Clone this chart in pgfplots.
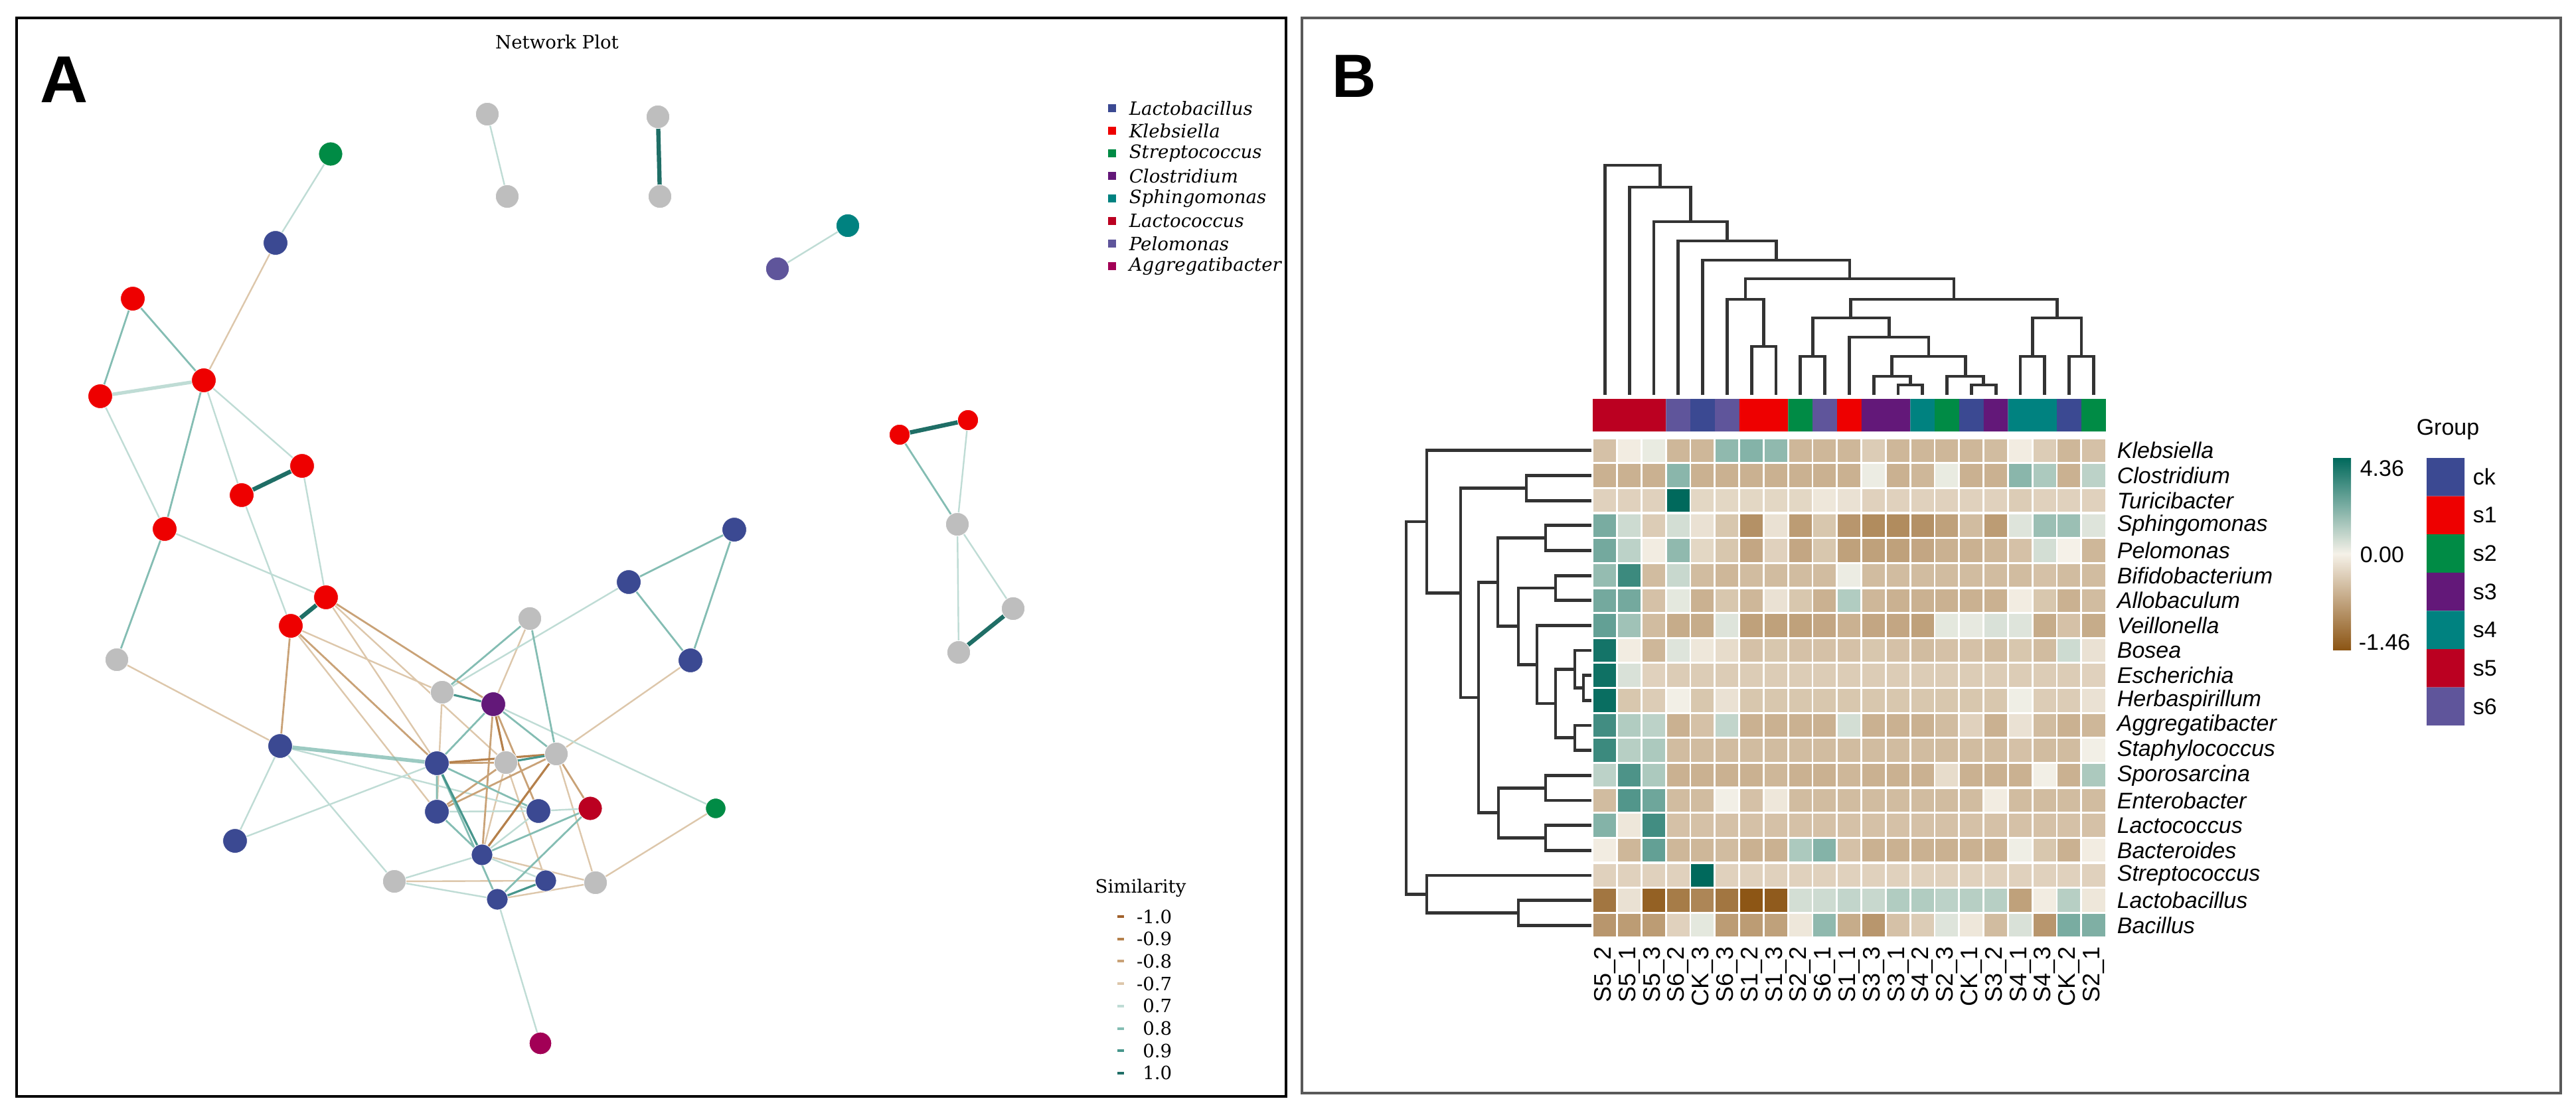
\documentclass[border=0pt]{standalone}
\usepackage{fontspec}
\setmainfont{Liberation Sans}
\newfontfamily\seriffam{DejaVu Serif}
\usepackage{pgfplots}
\pgfplotsset{compat=1.18}
\definecolor{cblue}{HTML}{3B4992}
\definecolor{cred}{HTML}{EE0000}
\definecolor{cgreen}{HTML}{008B45}
\definecolor{cpurple}{HTML}{631879}
\definecolor{cteal}{HTML}{008280}
\definecolor{ccrimson}{HTML}{BB0021}
\definecolor{cviolet}{HTML}{5F559B}
\definecolor{cmagenta}{HTML}{A20056}
\definecolor{cgray}{HTML}{BEBEBE}
\definecolor{hbrown}{RGB}{140,85,20}
\definecolor{hcream}{RGB}{245,241,232}
\definecolor{hteal}{RGB}{0,105,92}
\definecolor{sn10}{HTML}{A0602A}
\definecolor{sn09}{HTML}{B5804B}
\definecolor{sn08}{HTML}{C9A277}
\definecolor{sn07}{HTML}{DDC7AB}
\definecolor{sp07}{HTML}{BFDCD5}
\definecolor{sp08}{HTML}{84BDB3}
\definecolor{sp09}{HTML}{47968C}
\definecolor{sp10}{HTML}{1F6E66}
\definecolor{dendro}{HTML}{333333}
\newcommand\fb{\fontsize{8.5bp}{10bp}\selectfont}
\newcommand\fc{\fontsize{9bp}{10bp}\selectfont}
\newcommand\fs{\seriffam\fontsize{6.9bp}{8bp}\selectfont}
\begin{document}
\begin{tikzpicture}
\begin{axis}[
  scale only axis, width=970bp, height=419.25bp,
  xmin=0, xmax=3880, ymin=0, ymax=1677, y dir=reverse,
  hide axis, clip=false, unbounded coords=jump,
  colormap={hm}{rgb255=(140,85,20) rgb255=(245,241,232) rgb255=(163,196,185) rgb255=(82,150,139) rgb255=(0,105,92)},
  point meta min=-1.46, point meta max=4.36,
]
% background
\addplot[draw=none, fill=white] coordinates {(0,0) (3880,0) (3880,1677) (0,1677) (0,0)};
% ================= PANEL A =================
\draw[line width=1.2bp, black] (25,27) rectangle (1937,1652);
\node[font=\bfseries\fontsize{25bp}{30bp}\selectfont, inner sep=0pt] at (97,120) {A};
\node[font=\fs, inner sep=0pt] at (839,63) {Network Plot};
% edges -0.7
\addplot[sn07, line width=0.6bp] coordinates {
(415,366) (307,573) (nan,nan) (176,994) (422,1124) (nan,nan) (438,943) (666,1043) (nan,nan)
(1078,1218) (897,1330) (nan,nan) (838,1136) (897,1330) (nan,nan) (1040,995) (838,1136) (nan,nan)
(491,900) (658,1150) (nan,nan) (762,1149) (822,1327) (nan,nan) (594,1328) (822,1327) (nan,nan)
(897,1330) (726,1288) (nan,nan) (897,1330) (749,1355) (nan,nan) (798,932) (743,1061) (nan,nan)
(666,1043) (658,1223) (nan,nan) (762,1149) (726,1288) (nan,nan) (491,900) (762,1149) (nan,nan)
(438,943) (658,1223)};
% edges 0.7
\addplot[sp07, line width=0.6bp] coordinates {
(734,172) (764,296) (nan,nan) (498,232) (415,366) (nan,nan) (1277,340) (1171,405) (nan,nan)
(151,597) (248,797) (nan,nan) (307,573) (455,702) (nan,nan) (307,573) (364,746) (nan,nan)
(455,702) (491,900) (nan,nan) (364,746) (438,943) (nan,nan) (248,797) (491,900) (nan,nan)
(422,1124) (354,1267) (nan,nan) (422,1124) (594,1328) (nan,nan) (354,1267) (658,1150) (nan,nan)
(947,877) (666,1043) (nan,nan) (1078,1218) (743,1061) (nan,nan) (1442,790) (1526,917) (nan,nan)
(1442,790) (1444,983) (nan,nan) (1458,633) (1442,790) (nan,nan) (814,1572) (749,1355) (nan,nan)
(422,1124) (811,1222) (nan,nan) (594,1328) (726,1288) (nan,nan) (594,1328) (749,1355) (nan,nan)
(726,1288) (822,1327) (nan,nan) (811,1222) (889,1218) (nan,nan) (658,1223) (811,1222) (nan,nan)
(811,1222) (726,1288)};
\addplot[sp07, line width=1.3bp] coordinates {(151,597) (307,573)};
% edges -0.8
\addplot[sn08, line width=0.7bp] coordinates {
(438,943) (422,1124) (nan,nan) (491,900) (743,1061) (nan,nan) (743,1061) (811,1222) (nan,nan)
(762,1149) (658,1223) (nan,nan) (658,1150) (762,1149) (nan,nan) (838,1136) (658,1223) (nan,nan)
(838,1136) (889,1218) (nan,nan) (743,1061) (726,1288) (nan,nan) (438,943) (658,1150)};
% edges 0.8
\addplot[sp08, line width=0.7bp] coordinates {
(200,450) (151,597) (nan,nan) (200,450) (307,573) (nan,nan) (307,573) (248,797) (nan,nan)
(248,797) (176,994) (nan,nan) (947,877) (1040,995) (nan,nan) (947,877) (1106,798) (nan,nan)
(1106,798) (1040,995) (nan,nan) (1355,655) (1442,790) (nan,nan) (798,932) (838,1136) (nan,nan)
(743,1061) (838,1136) (nan,nan) (743,1061) (658,1150) (nan,nan) (658,1150) (658,1223) (nan,nan)
(658,1223) (726,1288) (nan,nan) (889,1218) (726,1288) (nan,nan) (889,1218) (749,1355) (nan,nan)
(798,932) (666,1043) (nan,nan) (658,1150) (749,1355) (nan,nan) (658,1150) (811,1222)};
\addplot[sp08, line width=1.4bp, opacity=0.8] coordinates {(422,1124) (658,1150)};
% edges -0.9
\addplot[sn09, line width=0.8bp] coordinates {
(658,1150) (838,1136) (nan,nan) (838,1136) (726,1288) (nan,nan) (743,1061) (762,1149)};
% edges 0.9
\addplot[sp09, line width=0.8bp] coordinates {
(666,1043) (743,1061) (nan,nan) (762,1149) (838,1136) (nan,nan) (822,1327) (749,1355) (nan,nan)
(658,1150) (726,1288)};
% edges 1.0
\addplot[sp10, line width=1.6bp] coordinates {
(991,176) (994,296) (nan,nan) (455,702) (364,746) (nan,nan) (491,900) (438,943) (nan,nan)
(1355,655) (1458,633) (nan,nan) (1526,917) (1444,983)};
% nodes
\addplot[only marks, mark=*, mark size=4.4bp, cgray, mark options={draw=white, line width=0.2bp}] coordinates {
(734,172) (764,296) (991,176) (994,296) (176,994) (666,1043) (594,1328) (838,1136) (798,932)
(897,1330) (762,1149) (1442,790) (1444,983) (1526,917)};
\addplot[only marks, mark=*, mark size=4.6bp, cblue, mark options={draw=white, line width=0.2bp}] coordinates {
(415,366) (422,1124) (658,1150) (658,1223) (811,1222) (354,1267) (947,877) (1040,995) (1106,798)};
\addplot[only marks, mark=*, mark size=4.0bp, cblue, mark options={draw=white, line width=0.2bp}] coordinates {
(726,1288) (822,1327) (749,1355)};
\addplot[only marks, mark=*, mark size=4.6bp, cred, mark options={draw=white, line width=0.2bp}] coordinates {
(200,450) (151,597) (307,573) (455,702) (364,746) (248,797) (491,900) (438,943)};
\addplot[only marks, mark=*, mark size=3.9bp, cred, mark options={draw=white, line width=0.2bp}] coordinates {
(1355,655) (1458,633)};
\addplot[only marks, mark=*, mark size=4.5bp, cgreen, mark options={draw=white, line width=0.2bp}] coordinates {(498,232)};
\addplot[only marks, mark=*, mark size=3.8bp, cgreen, mark options={draw=white, line width=0.2bp}] coordinates {(1078,1218)};
\addplot[only marks, mark=*, mark size=4.6bp, cpurple, mark options={draw=white, line width=0.2bp}] coordinates {(743,1061)};
\addplot[only marks, mark=*, mark size=4.4bp, cteal, mark options={draw=white, line width=0.2bp}] coordinates {(1277,340)};
\addplot[only marks, mark=*, mark size=4.5bp, ccrimson, mark options={draw=white, line width=0.2bp}] coordinates {(889,1218)};
\addplot[only marks, mark=*, mark size=4.4bp, cviolet, mark options={draw=white, line width=0.2bp}] coordinates {(1171,405)};
\addplot[only marks, mark=*, mark size=4.2bp, cmagenta, mark options={draw=white, line width=0.2bp}] coordinates {(814,1572)};
% genus legend
\addplot[only marks, mark=square*, mark size=1.4bp, cblue] coordinates {(1675,163)};
\addplot[only marks, mark=square*, mark size=1.4bp, cred] coordinates {(1675,197)};
\addplot[only marks, mark=square*, mark size=1.4bp, cgreen] coordinates {(1675,231)};
\addplot[only marks, mark=square*, mark size=1.4bp, cpurple] coordinates {(1675,265)};
\addplot[only marks, mark=square*, mark size=1.4bp, cteal] coordinates {(1675,299)};
\addplot[only marks, mark=square*, mark size=1.4bp, ccrimson] coordinates {(1675,333)};
\addplot[only marks, mark=square*, mark size=1.4bp, cviolet] coordinates {(1675,367)};
\addplot[only marks, mark=square*, mark size=1.4bp, cmagenta] coordinates {(1675,401)};
\node[font=\fs\itshape, anchor=west, inner sep=0pt] at (1700,163) {Lactobacillus};
\node[font=\fs\itshape, anchor=west, inner sep=0pt] at (1700,197) {Klebsiella};
\node[font=\fs\itshape, anchor=west, inner sep=0pt] at (1700,231) {Streptococcus};
\node[font=\fs\itshape, anchor=west, inner sep=0pt] at (1700,265) {Clostridium};
\node[font=\fs\itshape, anchor=west, inner sep=0pt] at (1700,299) {Sphingomonas};
\node[font=\fs\itshape, anchor=west, inner sep=0pt] at (1700,333) {Lactococcus};
\node[font=\fs\itshape, anchor=west, inner sep=0pt] at (1700,367) {Pelomonas};
\node[font=\fs\itshape, anchor=west, inner sep=0pt] at (1700,401) {Aggregatibacter};
% similarity legend
\node[font=\fs, inner sep=0pt] at (1718,1338) {Similarity};
\addplot[sn10, line width=1bp] coordinates {(1683,1381) (1693,1381)};
\addplot[sn09, line width=1bp] coordinates {(1683,1414.7) (1693,1414.7)};
\addplot[sn08, line width=1bp] coordinates {(1683,1448.4) (1693,1448.4)};
\addplot[sn07, line width=1bp] coordinates {(1683,1482.1) (1693,1482.1)};
\addplot[sp07, line width=1bp] coordinates {(1683,1515.8) (1693,1515.8)};
\addplot[sp08, line width=1bp] coordinates {(1683,1549.5) (1693,1549.5)};
\addplot[sp09, line width=1bp] coordinates {(1683,1583.2) (1693,1583.2)};
\addplot[sp10, line width=1bp] coordinates {(1683,1616.9) (1693,1616.9)};
\node[font=\fs, anchor=east, inner sep=0pt] at (1766,1381) {-1.0};
\node[font=\fs, anchor=east, inner sep=0pt] at (1766,1414.7) {-0.9};
\node[font=\fs, anchor=east, inner sep=0pt] at (1766,1448.4) {-0.8};
\node[font=\fs, anchor=east, inner sep=0pt] at (1766,1482.1) {-0.7};
\node[font=\fs, anchor=east, inner sep=0pt] at (1766,1515.8) {0.7};
\node[font=\fs, anchor=east, inner sep=0pt] at (1766,1549.5) {0.8};
\node[font=\fs, anchor=east, inner sep=0pt] at (1766,1583.2) {0.9};
\node[font=\fs, anchor=east, inner sep=0pt] at (1766,1616.9) {1.0};
% ================= PANEL B =================
\draw[line width=0.8bp, black!65] (1961,27) rectangle (3857,1647);
\node[font=\bfseries\fontsize{23bp}{28bp}\selectfont, inner sep=0pt] at (2040,115) {B};
% heatmap
\addplot[scatter, only marks, mark=square*, mark size=4.65bp, point meta=explicit,
  scatter/use mapped color={draw=white, fill=mapped color, line width=0.7bp}]
  table[row sep=\\,
    x expr={2417.4+36.8*(\coordindex-21*floor((\coordindex+0.5)/21))},
    y expr={678.8+37.65*floor((\coordindex+0.5)/21)}, meta=v] {
v\\
-0.45\\ -0.05\\ 0.2\\ -0.55\\ -0.55\\ 1.8\\ 2.0\\ 1.8\\ -0.55\\ -0.55\\ -0.55\\ -0.35\\ -0.55\\ -0.55\\ -0.55\\ -0.55\\ -0.5\\ -0.05\\ -0.35\\ -0.55\\ -0.45\\
-0.6\\ -0.6\\ -0.6\\ 1.9\\ -0.6\\ -0.6\\ -0.6\\ -0.6\\ -0.6\\ -0.6\\ -0.6\\ 0.15\\ -0.6\\ -0.55\\ 0.2\\ -0.6\\ -0.6\\ 1.9\\ 1.3\\ -0.6\\ 1.0\\
-0.3\\ -0.3\\ -0.3\\ 4.36\\ -0.25\\ -0.25\\ -0.25\\ -0.25\\ -0.25\\ -0.1\\ -0.15\\ -0.3\\ -0.3\\ -0.3\\ -0.3\\ -0.3\\ -0.3\\ -0.35\\ -0.3\\ -0.3\\ -0.3\\
2.2\\ 0.7\\ -0.35\\ 0.6\\ -0.15\\ -0.4\\ -0.9\\ -0.15\\ -0.8\\ -0.4\\ -0.85\\ -0.95\\ -0.95\\ -0.9\\ -0.75\\ -0.5\\ -0.8\\ 0.4\\ 1.6\\ 1.6\\ 0.4\\
2.3\\ 1.0\\ -0.05\\ 1.8\\ -0.25\\ -0.4\\ -0.7\\ -0.3\\ -0.7\\ -0.4\\ -0.75\\ -0.75\\ -0.75\\ -0.7\\ -0.6\\ -0.6\\ -0.55\\ -0.45\\ 0.6\\ 0.0\\ -0.55\\
1.7\\ 3.3\\ -0.5\\ 0.8\\ -0.5\\ -0.55\\ -0.5\\ -0.5\\ -0.5\\ -0.5\\ 0.15\\ -0.5\\ -0.5\\ -0.5\\ -0.5\\ -0.5\\ -0.5\\ -0.5\\ -0.45\\ -0.5\\ -0.5\\
2.3\\ 2.3\\ -0.45\\ 0.3\\ -0.6\\ -0.4\\ -0.55\\ -0.15\\ -0.4\\ -0.6\\ 1.2\\ -0.55\\ -0.6\\ -0.6\\ -0.6\\ -0.6\\ -0.6\\ -0.05\\ -0.4\\ -0.6\\ -0.5\\
2.6\\ 1.5\\ -0.5\\ -0.65\\ -0.65\\ 0.4\\ -0.75\\ -0.75\\ -0.75\\ -0.7\\ -0.6\\ -0.7\\ -0.7\\ -0.75\\ 0.3\\ 0.25\\ 0.5\\ 0.4\\ -0.65\\ -0.45\\ -0.65\\
4.0\\ -0.05\\ -0.55\\ 0.4\\ -0.1\\ -0.2\\ -0.45\\ -0.4\\ -0.45\\ -0.45\\ -0.45\\ -0.4\\ -0.45\\ -0.5\\ -0.45\\ -0.45\\ -0.5\\ -0.4\\ -0.5\\ 0.7\\ -0.15\\
4.1\\ 0.5\\ -0.3\\ -0.35\\ -0.35\\ -0.35\\ -0.35\\ -0.35\\ -0.35\\ -0.35\\ -0.35\\ -0.35\\ -0.35\\ -0.35\\ -0.35\\ -0.35\\ -0.35\\ -0.35\\ -0.35\\ -0.35\\ -0.3\\
4.2\\ -0.4\\ -0.35\\ 0.05\\ -0.4\\ -0.15\\ -0.4\\ -0.4\\ -0.4\\ -0.4\\ -0.4\\ -0.4\\ -0.4\\ -0.4\\ -0.4\\ -0.4\\ -0.4\\ 0.1\\ -0.35\\ -0.35\\ -0.15\\
3.2\\ 1.2\\ 1.0\\ -0.6\\ -0.45\\ 0.9\\ -0.6\\ -0.6\\ -0.6\\ -0.6\\ 0.6\\ -0.6\\ -0.6\\ -0.6\\ -0.5\\ -0.3\\ -0.6\\ -0.15\\ -0.5\\ -0.6\\ -0.55\\
3.3\\ 1.1\\ 1.3\\ -0.5\\ -0.5\\ -0.5\\ -0.5\\ -0.5\\ -0.5\\ -0.5\\ -0.5\\ -0.5\\ -0.5\\ -0.5\\ -0.5\\ -0.5\\ -0.5\\ -0.45\\ -0.5\\ -0.5\\ 0.05\\
1.0\\ 3.0\\ 1.3\\ -0.6\\ -0.6\\ -0.6\\ -0.6\\ -0.55\\ -0.6\\ -0.6\\ -0.55\\ -0.6\\ -0.6\\ -0.6\\ -0.2\\ -0.6\\ -0.6\\ -0.6\\ 0.05\\ -0.6\\ 1.3\\
-0.5\\ 2.9\\ 2.4\\ -0.5\\ -0.5\\ 0.05\\ -0.45\\ -0.1\\ -0.5\\ -0.5\\ -0.5\\ -0.5\\ -0.5\\ -0.5\\ -0.5\\ -0.5\\ -0.05\\ -0.5\\ -0.5\\ -0.5\\ -0.5\\
2.0\\ -0.1\\ 3.2\\ -0.45\\ -0.45\\ -0.45\\ -0.45\\ -0.45\\ -0.45\\ -0.45\\ -0.45\\ -0.45\\ -0.45\\ -0.45\\ -0.45\\ -0.45\\ -0.45\\ -0.45\\ -0.45\\ -0.45\\ -0.45\\
-0.05\\ -0.55\\ 2.6\\ -0.55\\ -0.55\\ -0.5\\ -0.6\\ -0.6\\ 1.3\\ 2.0\\ -0.45\\ -0.6\\ -0.6\\ -0.6\\ -0.6\\ -0.6\\ -0.6\\ 0.1\\ -0.4\\ -0.6\\ -0.05\\
-0.3\\ -0.3\\ -0.3\\ -0.3\\ 4.36\\ -0.3\\ -0.3\\ -0.3\\ -0.3\\ -0.3\\ -0.3\\ -0.3\\ -0.3\\ -0.3\\ -0.3\\ -0.3\\ -0.3\\ -0.3\\ -0.3\\ -0.3\\ -0.3\\
-1.15\\ -0.15\\ -1.35\\ -1.1\\ -1.0\\ -1.15\\ -1.45\\ -1.4\\ 0.6\\ 0.7\\ 0.9\\ 0.8\\ 1.2\\ 1.2\\ 1.0\\ 1.1\\ 1.1\\ -0.75\\ -0.05\\ 1.1\\ -0.1\\
-0.85\\ -0.8\\ -0.8\\ -0.3\\ 0.3\\ -0.8\\ -0.8\\ -0.75\\ -0.1\\ 1.8\\ -0.65\\ -0.85\\ -0.45\\ -0.35\\ 0.4\\ -0.1\\ -0.5\\ 0.5\\ -0.85\\ 2.2\\ 2.1\\
};
% group colour bar
\addplot[fill=ccrimson, draw=none] coordinates {(2399,601) (2509.4,601) (2509.4,650) (2399,650) (2399,601)};
\addplot[fill=cviolet, draw=none] coordinates {(2509.4,601) (2546.2,601) (2546.2,650) (2509.4,650) (2509.4,601)};
\addplot[fill=cblue, draw=none] coordinates {(2546.2,601) (2583,601) (2583,650) (2546.2,650) (2546.2,601)};
\addplot[fill=cviolet, draw=none] coordinates {(2583,601) (2619.8,601) (2619.8,650) (2583,650) (2583,601)};
\addplot[fill=cred, draw=none] coordinates {(2619.8,601) (2693.4,601) (2693.4,650) (2619.8,650) (2619.8,601)};
\addplot[fill=cgreen, draw=none] coordinates {(2693.4,601) (2730.2,601) (2730.2,650) (2693.4,650) (2693.4,601)};
\addplot[fill=cviolet, draw=none] coordinates {(2730.2,601) (2767,601) (2767,650) (2730.2,650) (2730.2,601)};
\addplot[fill=cred, draw=none] coordinates {(2767,601) (2803.8,601) (2803.8,650) (2767,650) (2767,601)};
\addplot[fill=cpurple, draw=none] coordinates {(2803.8,601) (2877.4,601) (2877.4,650) (2803.8,650) (2803.8,601)};
\addplot[fill=cteal, draw=none] coordinates {(2877.4,601) (2914.2,601) (2914.2,650) (2877.4,650) (2877.4,601)};
\addplot[fill=cgreen, draw=none] coordinates {(2914.2,601) (2951,601) (2951,650) (2914.2,650) (2914.2,601)};
\addplot[fill=cblue, draw=none] coordinates {(2951,601) (2987.8,601) (2987.8,650) (2951,650) (2951,601)};
\addplot[fill=cpurple, draw=none] coordinates {(2987.8,601) (3024.6,601) (3024.6,650) (2987.8,650) (2987.8,601)};
\addplot[fill=cteal, draw=none] coordinates {(3024.6,601) (3098.2,601) (3098.2,650) (3024.6,650) (3024.6,601)};
\addplot[fill=cblue, draw=none] coordinates {(3098.2,601) (3135,601) (3135,650) (3098.2,650) (3098.2,601)};
\addplot[fill=cgreen, draw=none] coordinates {(3135,601) (3171.8,601) (3171.8,650) (3135,650) (3135,601)};
% column dendrogram
\addplot[dendro, line width=1.2bp] coordinates {
(2638.2,595) (2638.2,522) (2675.0,522) (2675.0,595) (nan,nan)
(2601.4,595) (2601.4,451) (2656.6,451) (2656.6,522) (nan,nan)
(2711.8,595) (2711.8,537) (2748.6,537) (2748.6,595) (nan,nan)
(2859.0,595) (2859.0,580) (2895.8,580) (2895.8,595) (nan,nan)
(2822.2,595) (2822.2,567) (2877.4,567) (2877.4,580) (nan,nan)
(2969.4,595) (2969.4,580) (3006.2,580) (3006.2,595) (nan,nan)
(2932.6,595) (2932.6,567) (2987.8,567) (2987.8,580) (nan,nan)
(2849.8,567) (2849.8,537) (2960.2,537) (2960.2,567) (nan,nan)
(2785.4,595) (2785.4,508) (2905.0,508) (2905.0,537) (nan,nan)
(2730.2,537) (2730.2,479) (2845.2,479) (2845.2,508) (nan,nan)
(3043.0,595) (3043.0,537) (3079.8,537) (3079.8,595) (nan,nan)
(3116.6,595) (3116.6,537) (3153.4,537) (3153.4,595) (nan,nan)
(3061.4,537) (3061.4,479) (3135.0,479) (3135.0,537) (nan,nan)
(2787.7,479) (2787.7,451) (3098.2,451) (3098.2,479) (nan,nan)
(2629.0,451) (2629.0,420) (2942.95,420) (2942.95,451) (nan,nan)
(2564.6,595) (2564.6,392) (2785.98,392) (2785.98,420) (nan,nan)
(2527.8,595) (2527.8,363) (2675.29,363) (2675.29,392) (nan,nan)
(2491.0,595) (2491.0,334) (2601.55,334) (2601.55,363) (nan,nan)
(2454.2,595) (2454.2,282) (2546.27,282) (2546.27,334) (nan,nan)
(2417.4,595) (2417.4,249) (2500.24,249) (2500.24,282)};
% row dendrogram
\addplot[dendro, line width=1.2bp] coordinates {
(2397,716.5) (2299,716.5) (2299,754.1) (2397,754.1) (nan,nan)
(2397,791.8) (2328,791.8) (2328,829.4) (2397,829.4) (nan,nan)
(2397,867.1) (2343,867.1) (2343,904.7) (2397,904.7) (nan,nan)
(2397,1017.7) (2385,1017.7) (2385,1055.3) (2397,1055.3) (nan,nan)
(2397,980.0) (2372,980.0) (2372,1036.5) (2385,1036.5) (nan,nan)
(2397,1093.0) (2372,1093.0) (2372,1130.6) (2397,1130.6) (nan,nan)
(2372,1008.25) (2343,1008.25) (2343,1111.8) (2372,1111.8) (nan,nan)
(2397,942.4) (2315,942.4) (2315,1060.0) (2343,1060.0) (nan,nan)
(2343,885.9) (2287,885.9) (2287,1001.2) (2315,1001.2) (nan,nan)
(2328,810.6) (2256,810.6) (2256,943.55) (2287,943.55) (nan,nan)
(2397,1168.3) (2328,1168.3) (2328,1205.9) (2397,1205.9) (nan,nan)
(2397,1243.6) (2328,1243.6) (2328,1281.2) (2397,1281.2) (nan,nan)
(2328,1187.1) (2257,1187.1) (2257,1262.4) (2328,1262.4) (nan,nan)
(2256,877.1) (2227,877.1) (2227,1224.75) (2257,1224.75) (nan,nan)
(2299,735.3) (2200,735.3) (2200,1050.9) (2227,1050.9) (nan,nan)
(2397,678.8) (2149,678.8) (2149,893.1) (2200,893.1) (nan,nan)
(2397,1356.5) (2287,1356.5) (2287,1394.2) (2397,1394.2) (nan,nan)
(2397,1318.9) (2149,1318.9) (2149,1375.35) (2287,1375.35) (nan,nan)
(2149,786.0) (2118,786.0) (2118,1347.1) (2149,1347.1)};
% row labels
\node[font=\fb\itshape, anchor=west, inner sep=0pt] at (3188,678.8) {Klebsiella};
\node[font=\fb\itshape, anchor=west, inner sep=0pt] at (3188,716.5) {Clostridium};
\node[font=\fb\itshape, anchor=west, inner sep=0pt] at (3188,754.1) {Turicibacter};
\node[font=\fb\itshape, anchor=west, inner sep=0pt] at (3188,791.8) {Sphingomonas};
\node[font=\fb\itshape, anchor=west, inner sep=0pt] at (3188,829.4) {Pelomonas};
\node[font=\fb\itshape, anchor=west, inner sep=0pt] at (3188,867.1) {Bifidobacterium};
\node[font=\fb\itshape, anchor=west, inner sep=0pt] at (3188,904.7) {Allobaculum};
\node[font=\fb\itshape, anchor=west, inner sep=0pt] at (3188,942.4) {Veillonella};
\node[font=\fb\itshape, anchor=west, inner sep=0pt] at (3188,980.0) {Bosea};
\node[font=\fb\itshape, anchor=west, inner sep=0pt] at (3188,1017.7) {Escherichia};
\node[font=\fb\itshape, anchor=west, inner sep=0pt] at (3188,1055.3) {Herbaspirillum};
\node[font=\fb\itshape, anchor=west, inner sep=0pt] at (3188,1093.0) {Aggregatibacter};
\node[font=\fb\itshape, anchor=west, inner sep=0pt] at (3188,1130.6) {Staphylococcus};
\node[font=\fb\itshape, anchor=west, inner sep=0pt] at (3188,1168.3) {Sporosarcina};
\node[font=\fb\itshape, anchor=west, inner sep=0pt] at (3188,1205.9) {Enterobacter};
\node[font=\fb\itshape, anchor=west, inner sep=0pt] at (3188,1243.6) {Lactococcus};
\node[font=\fb\itshape, anchor=west, inner sep=0pt] at (3188,1281.2) {Bacteroides};
\node[font=\fb\itshape, anchor=west, inner sep=0pt] at (3188,1318.9) {Streptococcus};
\node[font=\fb\itshape, anchor=west, inner sep=0pt] at (3188,1356.5) {Lactobacillus};
\node[font=\fb\itshape, anchor=west, inner sep=0pt] at (3188,1394.2) {Bacillus};
% column labels
\node[font=\fc, rotate=90, anchor=east, inner sep=0pt] at (2417.4,1426) {S5\_2};
\node[font=\fc, rotate=90, anchor=east, inner sep=0pt] at (2454.2,1426) {S5\_1};
\node[font=\fc, rotate=90, anchor=east, inner sep=0pt] at (2491.0,1426) {S5\_3};
\node[font=\fc, rotate=90, anchor=east, inner sep=0pt] at (2527.8,1426) {S6\_2};
\node[font=\fc, rotate=90, anchor=east, inner sep=0pt] at (2564.6,1426) {CK\_3};
\node[font=\fc, rotate=90, anchor=east, inner sep=0pt] at (2601.4,1426) {S6\_3};
\node[font=\fc, rotate=90, anchor=east, inner sep=0pt] at (2638.2,1426) {S1\_2};
\node[font=\fc, rotate=90, anchor=east, inner sep=0pt] at (2675.0,1426) {S1\_3};
\node[font=\fc, rotate=90, anchor=east, inner sep=0pt] at (2711.8,1426) {S2\_2};
\node[font=\fc, rotate=90, anchor=east, inner sep=0pt] at (2748.6,1426) {S6\_1};
\node[font=\fc, rotate=90, anchor=east, inner sep=0pt] at (2785.4,1426) {S1\_1};
\node[font=\fc, rotate=90, anchor=east, inner sep=0pt] at (2822.2,1426) {S3\_3};
\node[font=\fc, rotate=90, anchor=east, inner sep=0pt] at (2859.0,1426) {S3\_1};
\node[font=\fc, rotate=90, anchor=east, inner sep=0pt] at (2895.8,1426) {S4\_2};
\node[font=\fc, rotate=90, anchor=east, inner sep=0pt] at (2932.6,1426) {S2\_3};
\node[font=\fc, rotate=90, anchor=east, inner sep=0pt] at (2969.4,1426) {CK\_1};
\node[font=\fc, rotate=90, anchor=east, inner sep=0pt] at (3006.2,1426) {S3\_2};
\node[font=\fc, rotate=90, anchor=east, inner sep=0pt] at (3043.0,1426) {S4\_1};
\node[font=\fc, rotate=90, anchor=east, inner sep=0pt] at (3079.8,1426) {S4\_3};
\node[font=\fc, rotate=90, anchor=east, inner sep=0pt] at (3116.6,1426) {CK\_2};
\node[font=\fc, rotate=90, anchor=east, inner sep=0pt] at (3153.4,1426) {S2\_1};
% colour bar
\shade[bottom color=hbrown, top color=hteal, middle color=hcream] (3514,690) rectangle (3541,979);
\node[font=\fb, anchor=west, inner sep=0pt] at (3554,706) {4.36};
\node[font=\fb, anchor=west, inner sep=0pt] at (3554,836) {0.00};
\node[font=\fb, anchor=west, inner sep=0pt] at (3552,968) {-1.46};
% group legend
\node[font=\fb, inner sep=0pt] at (3687,647) {Group};
\addplot[fill=cblue, draw=none] coordinates {(3655,690) (3712,690) (3712,747.6) (3655,747.6) (3655,690)};
\addplot[fill=cred, draw=none] coordinates {(3655,747.6) (3712,747.6) (3712,805.2) (3655,805.2) (3655,747.6)};
\addplot[fill=cgreen, draw=none] coordinates {(3655,805.2) (3712,805.2) (3712,862.8) (3655,862.8) (3655,805.2)};
\addplot[fill=cpurple, draw=none] coordinates {(3655,862.8) (3712,862.8) (3712,920.4) (3655,920.4) (3655,862.8)};
\addplot[fill=cteal, draw=none] coordinates {(3655,920.4) (3712,920.4) (3712,978) (3655,978) (3655,920.4)};
\addplot[fill=ccrimson, draw=none] coordinates {(3655,978) (3712,978) (3712,1035.6) (3655,1035.6) (3655,978)};
\addplot[fill=cviolet, draw=none] coordinates {(3655,1035.6) (3712,1035.6) (3712,1093.2) (3655,1093.2) (3655,1035.6)};
\node[font=\fb, anchor=west, inner sep=0pt] at (3724,718.8) {ck};
\node[font=\fb, anchor=west, inner sep=0pt] at (3724,776.4) {s1};
\node[font=\fb, anchor=west, inner sep=0pt] at (3724,834) {s2};
\node[font=\fb, anchor=west, inner sep=0pt] at (3724,891.6) {s3};
\node[font=\fb, anchor=west, inner sep=0pt] at (3724,949.2) {s4};
\node[font=\fb, anchor=west, inner sep=0pt] at (3724,1006.8) {s5};
\node[font=\fb, anchor=west, inner sep=0pt] at (3724,1064.4) {s6};
\end{axis}
\end{tikzpicture}
\end{document}
